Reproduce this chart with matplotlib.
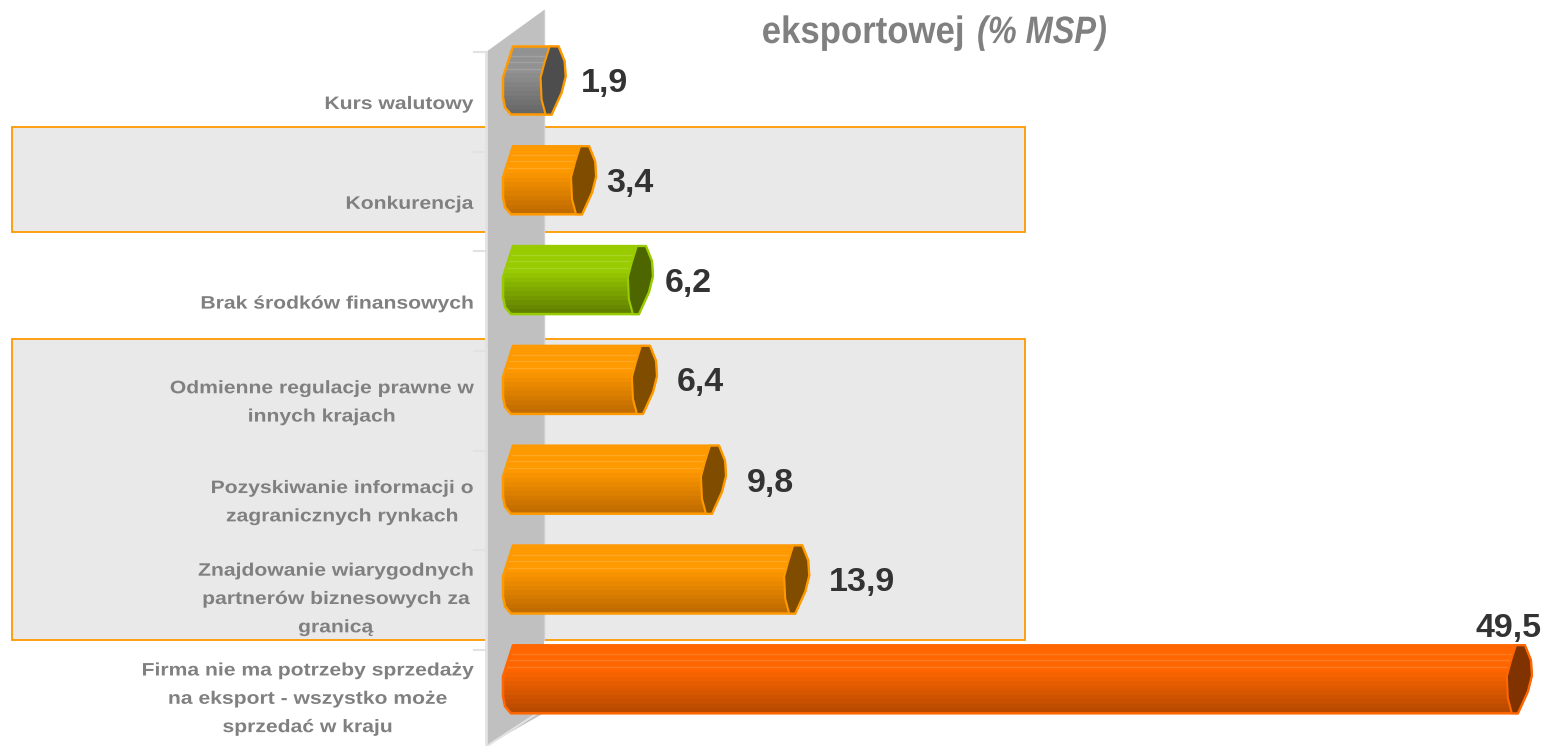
import numpy as np
import matplotlib
matplotlib.use("Agg")
import matplotlib.pyplot as plt
from matplotlib.patches import Polygon, Rectangle
from matplotlib.colors import LinearSegmentedColormap
from matplotlib.patheffects import AbstractPathEffect
from matplotlib.transforms import Affine2D

categories = ["Kurs walutowy", "Konkurencja", "Brak środków finansowych",
              "Odmienne regulacje prawne w\ninnych krajach",
              "Pozyskiwanie informacji o\nzagranicznych rynkach",
              "Znajdowanie wiarygodnych\npartnerów biznesowych za\ngranicą",
              "Firma nie ma potrzeby sprzedaży\nna eksport - wszystko może\nsprzedać w kraju"]
values = [1.9, 3.4, 6.2, 6.4, 9.8, 13.9, 49.5]
value_labels = ["1,9", "3,4", "6,2", "6,4", "9,8", "13,9", "49,5"]
styles = ["gray", "orange", "green", "orange", "orange", "orange", "red"]
# hand-placed value-label offsets from the bar tip / bar centre, in pixels
label_dx = [15, 10, 12, 20, 21, 20, -56]
label_dy = [3, 3, 3, 3, 4, 3, -51]

palette = {
    "gray":   ("#FF9900", "#929292", "#686868", "#4D4D4D"),
    "orange": ("#FF9900", "#FF9900", "#C06C00", "#804D00"),
    "green":  ("#99CC00", "#99CC00", "#618000", "#4D6600"),
    "red":    ("#FF6600", "#FF6600", "#B84A00", "#803300"),
}


class HStretch(AbstractPathEffect):
    """Widen drawn text about a fixed pixel column (the source uses wide tracking)."""
    def __init__(self, sx, anchor):
        super().__init__()
        self.sx, self.anchor = sx, anchor

    def draw_path(self, renderer, gc, tpath, affine, rgbFace=None):
        extra = Affine2D().translate(-self.anchor, 0).scale(self.sx, 1).translate(self.anchor, 0)
        renderer.draw_path(gc, tpath, affine + extra, rgbFace)


plt.rcParams["font.family"] = ["Liberation Sans", "DejaVu Sans"]
W, H = 1547, 746
fig = plt.figure(figsize=(W / 100, H / 100), dpi=100)

# Layout layer in pixel coordinates
bg = fig.add_axes([0, 0, 1, 1])
bg.set_xlim(0, W); bg.set_ylim(H, 0); bg.axis("off")
for y0, y1 in [(127, 232), (339, 640)]:
    bg.add_patch(Rectangle((12, y0), 1013, y1 - y0, fc="#E9E9E9", ec="#FF9900", lw=1.3))
bg.add_patch(Polygon([(486, 52), (544, 10), (544, 713), (486, 746)], fc="#C0C0C0", ec="none"))
bg.plot([486, 486], [52, 746], color="#E2E2E2", lw=2)
bg.plot([544, 544], [10, 640], color="#CFCFCF", lw=1)
bg.plot([487, 536], [746, 714], color="#E2E2E2", lw=1.5)
for y in np.linspace(52, 650, 7):
    bg.plot([474, 486], [y, y], color="#E2E2E2", lw=1.5)

bg.text(965, 33, "eksportowej", ha="right", va="center", fontsize=27.5, fontweight="bold",
        color="#808080", path_effects=[HStretch(0.91, 965)])
bg.text(977, 33, "(% MSP)", ha="left", va="center", fontsize=27.5, fontweight="bold",
        fontstyle="italic", color="#808080", path_effects=[HStretch(0.85, 977)])

# Data layer
X0, SX = 527.0, 20.3
Y0, SY = 80.5, 99.8
ax = fig.add_axes([0, 0, 1, 1], facecolor="none")
ax.set_xlim(-X0 / SX, (W - X0) / SX)
ax.set_ylim((H - Y0) / SY, -Y0 / SY)
ax.axis("off")

body_left = [(-16, 34), (-22, 27), (-24, 17), (-24, -3), (-14, -34)]
cap_right = [(-7, -34), (-1, -19), (0, -4), (-4, 12), (-14, 34)]
cap_left = [(-20, 34), (-24, 19), (-25, -3), (-21, -18), (-16, -34)]
highlights = [-25, -19, -12]
label_fx = HStretch(1.17, 473)
text_offset = {1: 24, 2: 23, 3: 20}


def shift(v, i, pts):
    return [(v + dx / SX, i + dy / SY) for dx, dy in pts]


for i, (v, lab, txt, st) in enumerate(zip(values, value_labels, categories, styles)):
    edge, top, bottom, cap_col = palette[st]
    outline = shift(0, i, body_left) + shift(v, i, cap_right)
    clip = Polygon(outline, fc="none", ec="none", transform=ax.transData)
    ax.add_patch(clip)
    cmap = LinearSegmentedColormap.from_list("b", [(0, top), (0.35, top), (1, bottom)])
    steps = np.linspace(0, 1, 15)[:, None]
    im = ax.imshow(steps, extent=(-25 / SX, v, i + 34 / SY, i - 34 / SY), cmap=cmap, vmin=0, vmax=1,
                   aspect="auto", interpolation="nearest", zorder=2)
    im.set_clip_path(clip)
    for dy in highlights:
        ln = ax.plot([-25 / SX, v], [i + dy / SY] * 2, color="white", alpha=0.15, lw=1, zorder=2.5)[0]
        ln.set_clip_path(clip)
    ax.add_patch(Polygon(outline, fc="none", ec=edge, lw=1.8, joinstyle="round", zorder=3))
    ax.add_patch(Polygon(shift(v, i, cap_right + cap_left), fc=cap_col, ec=edge, lw=1.5, zorder=4))
    ax.text(v + label_dx[i] / SX, i + label_dy[i] / SY, lab, ha="left", va="center", fontsize=24.5,
            fontweight="bold", color="#333333", zorder=5)
    ax.text(-54 / SX, i + text_offset[txt.count("\n") + 1] / SY, txt, ha="right", va="center", ma="center",
            fontsize=13, fontweight="bold", color="#808080", linespacing=1.87, zorder=5,
            path_effects=[label_fx])

ax.set_xlim(-X0 / SX, (W - X0) / SX)
ax.set_ylim((H - Y0) / SY, -Y0 / SY)
fig.savefig("out.png", dpi=100)
